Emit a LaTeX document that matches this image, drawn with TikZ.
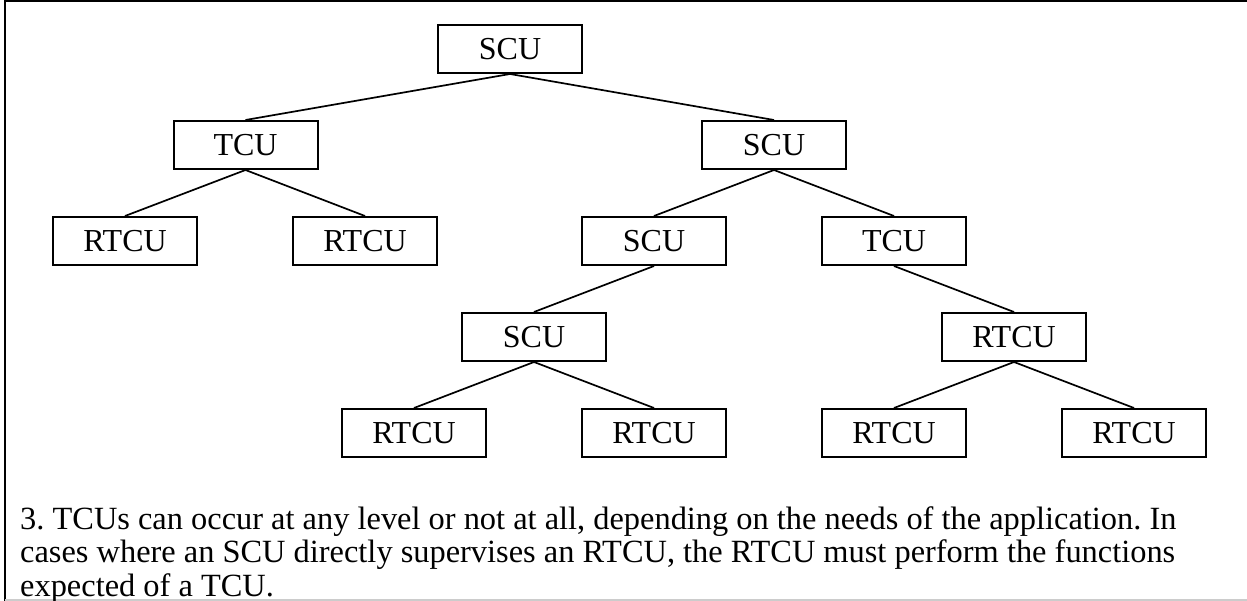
\documentclass[tikz,border=0pt]{standalone}
\usepackage{fontspec}
\setmainfont{Liberation Serif}
\frenchspacing
\begin{document}
\begin{tikzpicture}[x=1pt,y=-1pt,
  unit/.style={draw, line width=2pt, minimum width=144pt, minimum height=48pt, inner sep=0pt, font=\fontsize{32}{36}\selectfont},
  link/.style={line width=1.7pt},
  frame/.style={line width=2.4pt}]
\useasboundingbox (0,0) rectangle (1247,601);
\coordinate (tl) at (5,1);
\coordinate (tr) at (1247,1);
\coordinate (bl) at (5,601);
\coordinate (gl) at (5,600);
\coordinate (gr) at (1247,600);
\draw[frame] (tr) -- (tl) -- (bl);
\draw[line width=1.5pt, black!20] (gl) -- (gr);

\node[unit] (n1) at (510,49) {SCU};
\node[unit] (n2) at (245.5,145) {TCU};
\node[unit] (n3) at (774,145) {SCU};
\node[unit] (n4) at (125,241) {RTCU};
\node[unit] (n5) at (365,241) {RTCU};
\node[unit] (n6) at (654,241) {SCU};
\node[unit] (n7) at (894,241) {TCU};
\node[unit] (n8) at (534,337) {SCU};
\node[unit] (n9) at (1014,337) {RTCU};
\node[unit] (n10) at (414,433) {RTCU};
\node[unit] (n11) at (654,433) {RTCU};
\node[unit] (n12) at (894,433) {RTCU};
\node[unit] (n13) at (1134,433) {RTCU};

\foreach \a/\b in {n1/n2,n1/n3,n2/n4,n2/n5,n3/n6,n3/n7,n6/n8,n7/n9,n8/n10,n8/n11,n9/n12,n9/n13}
  \draw[link] (\a.south) -- (\b.north);

\node[anchor=north west, align=left, inner sep=0pt, font=\fontsize{32.4}{33.5}\selectfont] (txt) at (20,506)
 {3. TCUs can occur at any level or not at all, depending on the needs of the application. In\\
  cases where an SCU directly supervises an RTCU, the RTCU must perform the functions\\
  expected of a TCU.};
\end{tikzpicture}
\end{document}
